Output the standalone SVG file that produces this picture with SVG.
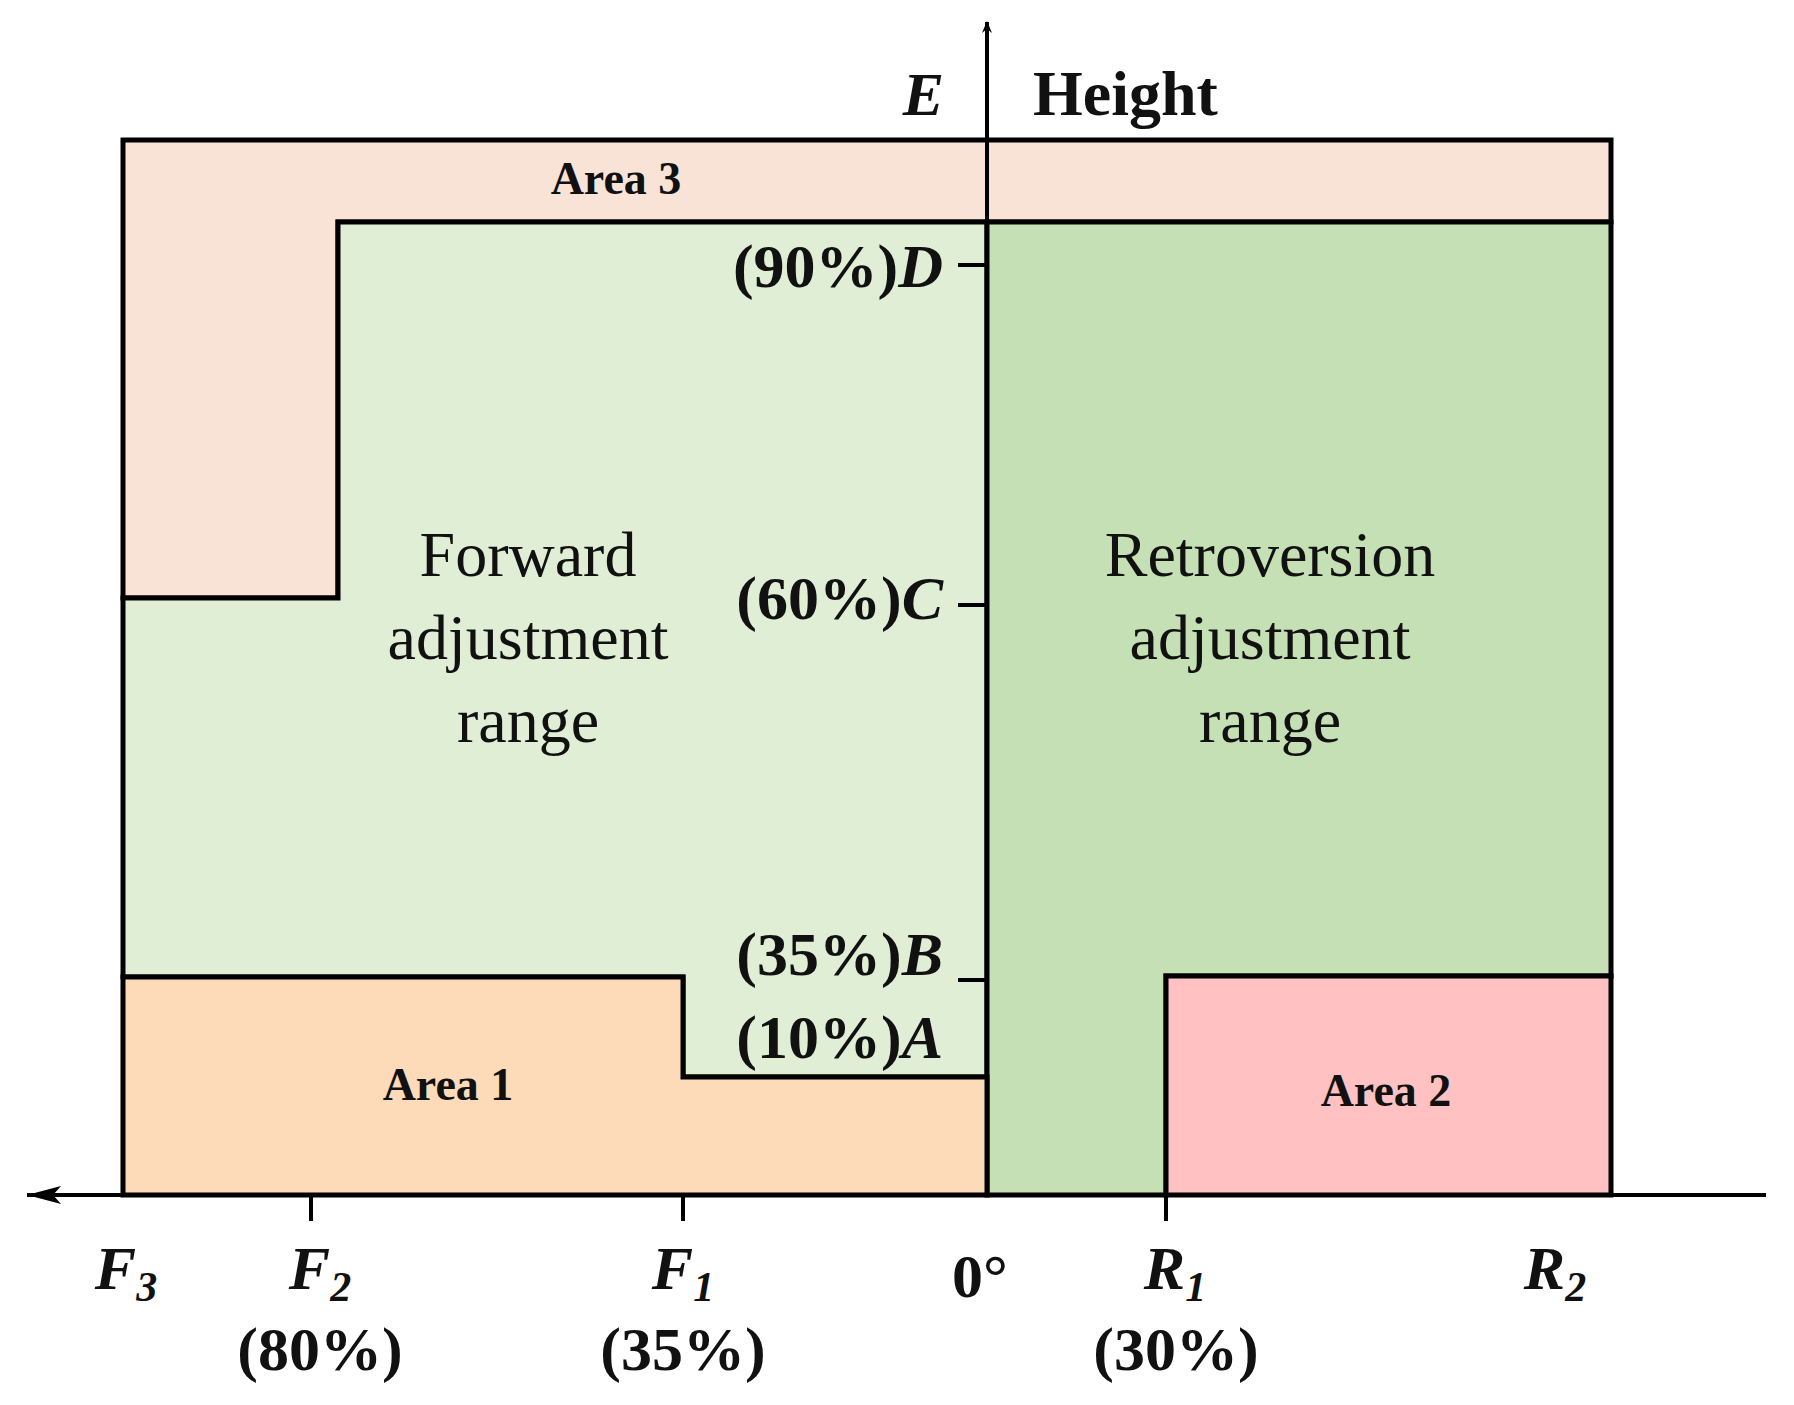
<svg xmlns="http://www.w3.org/2000/svg" width="1794" height="1405" viewBox="0 0 1794 1405">
<style>
.r{stroke:#000;stroke-width:5;stroke-linejoin:miter}
.t{font-family:"Liberation Serif",serif;fill:#111}
.b{font-weight:bold}
.i{font-style:italic;font-weight:bold}
.l{stroke:#000;stroke-width:4;fill:none}
</style>
<defs><marker id="ar" markerWidth="12" markerHeight="10" refX="11" refY="5" orient="auto" markerUnits="userSpaceOnUse"><path d="M0,0 L12,5 L0,10 L4,5 Z" fill="#000"/></marker>
<marker id="ar2" markerWidth="36" markerHeight="20" refX="34" refY="10" orient="auto" markerUnits="userSpaceOnUse"><path d="M0,1 L34,10 L0,19 L8,10 Z" fill="#000"/></marker></defs>
<rect width="1794" height="1405" fill="#fff"/>
<g id="area3"><polygon class="r" fill="#f9e3d6" points="123,140 1611,140 1611,222 338,222 338,598 123,598"/><text class="t b" x="616" y="194" font-size="46" text-anchor="middle">Area 3</text></g>
<g id="forward"><polygon class="r" fill="#e0eed6" points="123,598 338,598 338,222 987,222 987,1077 683,1077 683,977 123,977"/>
<text class="t" x="528" y="576" font-size="64" text-anchor="middle">Forward</text><text class="t" x="528" y="659" font-size="64" text-anchor="middle">adjustment</text><text class="t" x="528" y="742" font-size="64" text-anchor="middle">range</text></g>
<g id="retro"><polygon class="r" fill="#c5e0b4" points="987,222 1611,222 1611,976 1166,976 1166,1195 987,1195"/>
<text class="t" x="1270" y="576" font-size="64" text-anchor="middle">Retroversion</text><text class="t" x="1270" y="659" font-size="64" text-anchor="middle">adjustment</text><text class="t" x="1270" y="742" font-size="64" text-anchor="middle">range</text></g>
<g id="area1"><polygon class="r" fill="#fddbb8" points="123,977 683,977 683,1077 987,1077 987,1195 123,1195"/><text class="t b" x="448" y="1100" font-size="46" text-anchor="middle">Area 1</text></g>
<g id="area2"><rect class="r" fill="#ffc1c1" x="1166" y="976" width="445" height="219"/><text class="t b" x="1386" y="1106" font-size="46" text-anchor="middle">Area 2</text></g>
<g id="connectors">
<line class="l" x1="987" y1="1195" x2="987" y2="22" marker-end="url(#ar)"/>
<line class="l" x1="1766" y1="1195" x2="27" y2="1195" marker-end="url(#ar2)"/>
<line class="l" x1="311" y1="1195" x2="311" y2="1221"/>
<line class="l" x1="683" y1="1195" x2="683" y2="1221"/>
<line class="l" x1="1166" y1="1195" x2="1166" y2="1221"/>
<line class="l" x1="958" y1="265" x2="987" y2="265"/>
<line class="l" x1="958" y1="605" x2="987" y2="605"/>
<line class="l" x1="958" y1="980" x2="987" y2="980"/>
</g>
<g id="labels" class="t" font-size="62">
<text class="i" x="944" y="115" text-anchor="end">E</text>
<text class="b" x="1033" y="115" font-size="64">Height</text>
<text class="b" x="943" y="287" text-anchor="end">(90%)<tspan class="i">D</tspan></text>
<text class="b" x="943" y="619" text-anchor="end">(60%)<tspan class="i">C</tspan></text>
<text class="b" x="943" y="975" text-anchor="end">(35%)<tspan class="i">B</tspan></text>
<text class="b" x="943" y="1058" text-anchor="end">(10%)<tspan class="i">A</tspan></text>
<text class="i" x="126" y="1289" text-anchor="middle">F<tspan font-size="42" dy="12">3</tspan></text>
<text class="i" x="320" y="1289" text-anchor="middle">F<tspan font-size="42" dy="12">2</tspan></text>
<text class="i" x="683" y="1289" text-anchor="middle">F<tspan font-size="42" dy="12">1</tspan></text>
<text class="b" x="980" y="1297" text-anchor="middle">0°</text>
<text class="i" x="1175" y="1289" text-anchor="middle">R<tspan font-size="42" dy="12">1</tspan></text>
<text class="i" x="1555" y="1289" text-anchor="middle">R<tspan font-size="42" dy="12">2</tspan></text>
<text class="b" x="320" y="1370" text-anchor="middle">(80%)</text>
<text class="b" x="683" y="1370" text-anchor="middle">(35%)</text>
<text class="b" x="1176" y="1370" text-anchor="middle">(30%)</text>
</g>
</svg>
